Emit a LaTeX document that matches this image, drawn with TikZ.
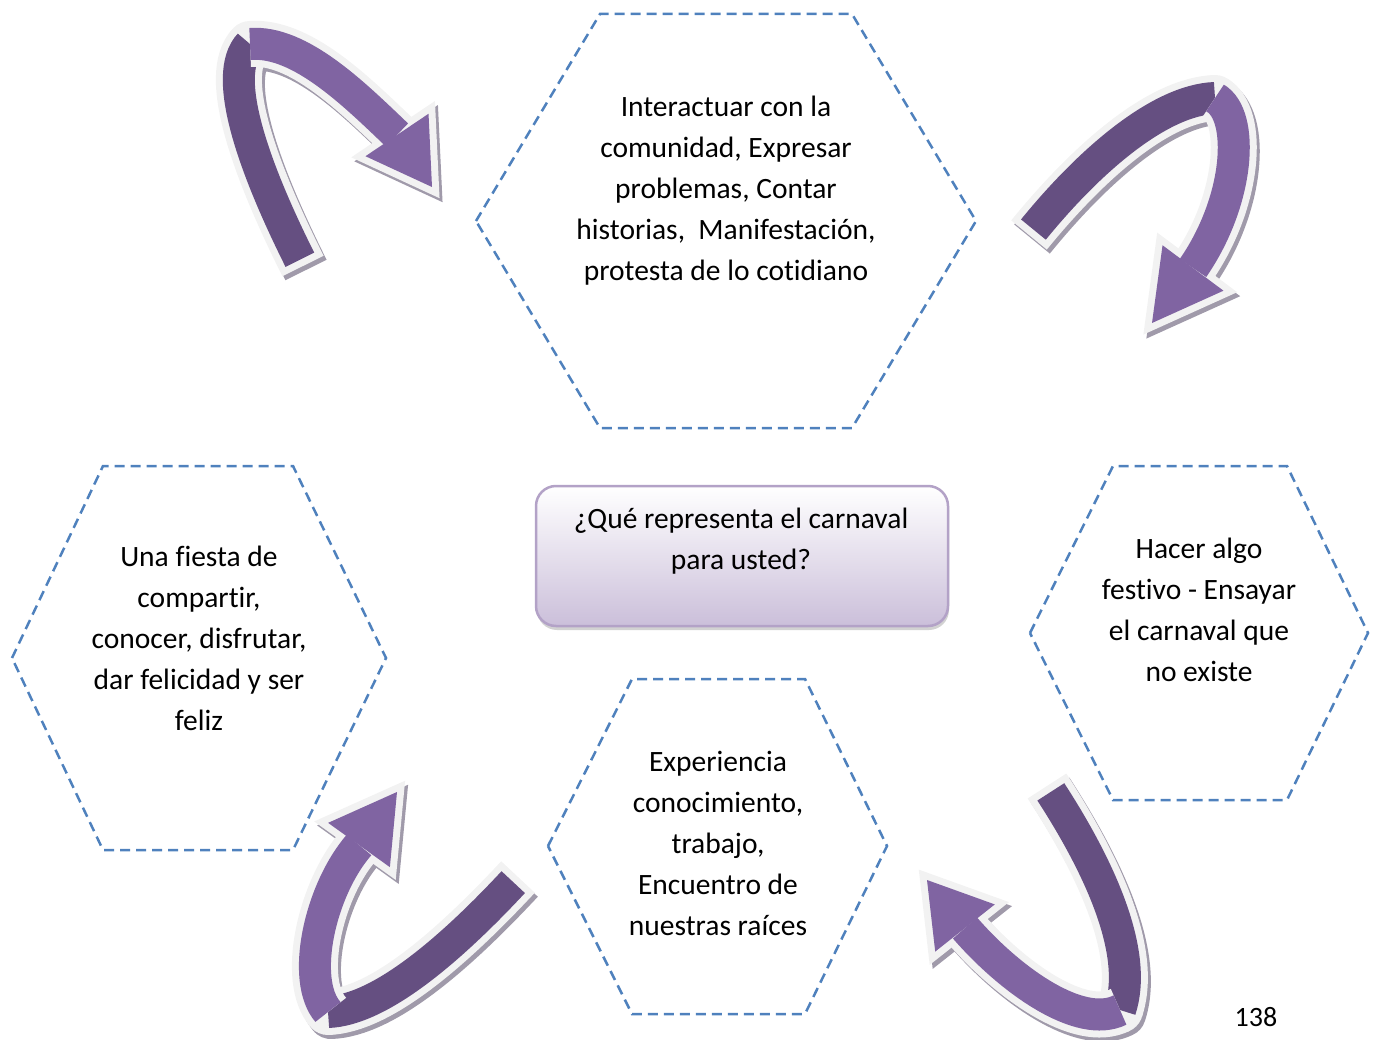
\documentclass[tikz,border=0pt]{standalone}
\usepackage{fontspec}
\setmainfont{Carlito}[Ligatures=NoCommon]
\usetikzlibrary{calc,shadows}

\definecolor{hexblue}{HTML}{4F81BD}
\definecolor{curldark}{HTML}{654F81}
\definecolor{curllight}{HTML}{8064A2}
\definecolor{curlrim}{HTML}{F2F2F2}
\definecolor{curlshade}{HTML}{A09AAA}
\definecolor{boxrim}{HTML}{B3A2C7}
\definecolor{boxfill}{HTML}{CBBFDA}

% bent ribbon arrow: tail, 2 controls, fold, 2 controls, head base, tip
\newcommand{\curlarrow}[8]{%
  \begin{scope}[shift={(3,4)}]
    \draw[curlshade, line width=46pt, line join=round] #1 .. controls #2 and #3 .. #4 .. controls #5 and #6 .. #7;
    \filldraw[curlshade, line width=14pt, line join=miter] ($#7!38pt!90:#8$) -- #8 -- ($#7!38pt!-90:#8$) -- cycle;
  \end{scope}
  \draw[curlrim, line width=46pt] #1 .. controls #2 and #3 .. #4;
  \fill[curlrim] #4 circle (23pt);
  \draw[curldark, line width=32pt, shorten <=7pt] #1 .. controls #2 and #3 .. #4;
  \draw[curlrim, line width=46pt] #4 .. controls #5 and #6 .. #7;
  \draw[curlrim, line width=14pt, line join=miter] ($#7!38pt!90:#8$) -- #8 -- ($#7!38pt!-90:#8$) -- cycle;
  \draw[curllight, line width=32pt] #4 .. controls #5 and #6 .. #7;
  \fill[curllight] ($#7!38pt!90:#8$) -- #8 -- ($#7!38pt!-90:#8$) -- cycle;
}

\begin{document}
\begin{tikzpicture}[x=1pt, y=-1pt,
   hexline/.style={draw=hexblue, line width=2.5pt, dash pattern=on 10pt off 6pt},
   hextext/.style={align=center, font=\fontsize{29.5}{41}\selectfont, inner sep=0pt},
   qbox/.style={rounded corners=20pt, draw=boxrim, line width=2.5pt, top color=white, bottom color=boxfill,
      minimum width=412pt, minimum height=140pt, drop shadow={shadow xshift=1pt, shadow yshift=-4pt, fill=black!35}}]
   \useasboundingbox (0,0) rectangle (1376,1040);

   % hexagons
   \draw[hexline] (476,221) -- (600,14) -- (852,14) -- (976,221) -- (852,428) -- (600,428) -- cycle;
   \draw[hexline] (12,658) -- (103,466) -- (293,466) -- (386,658) -- (293,850) -- (103,850) -- cycle;
   \draw[hexline] (1030,633) -- (1113,466) -- (1287,466) -- (1368,633) -- (1287,800) -- (1113,800) -- cycle;
   \draw[hexline] (548,846) -- (632,679) -- (805,679) -- (887,846) -- (805,1014) -- (632,1014) -- cycle;

   \node[hextext] (top) at (726,191) {Interactuar con la\\comunidad, Expresar\\problemas, Contar\\historias,\ \ Manifestación,\\protesta de lo cotidiano};
   \node[hextext] (left) at (199,638) {Una fiesta de\\compartir,\\conocer, disfrutar,\\dar felicidad y ser\\feliz};
   \node[hextext] (right) at (1199,610) {Hacer algo\\festivo - Ensayar\\el carnaval que\\no existe};
   \node[hextext] (bottom) at (718,843) {Experiencia\\conocimiento,\\trabajo,\\Encuentro de\\nuestras raíces};

   % centre question
   \node[qbox] (qbox) at (742,556) {};
   \node[hextext] (question) at (741,541) {¿Qué representa el carnaval\\para usted?};

   % curled arrows
   \curlarrow{(303,266)}{(255,170)}{(220,75)}{(250,44)}{(300,40)}{(355,95)}{(397,135)}{(432,187)}
   \curlarrow{(1029,235)}{(1090,160)}{(1160,100)}{(1215,98)}{(1245,115)}{(1240,200)}{(1193,268)}{(1152,323)}
   \curlarrow{(518,877)}{(450,950)}{(380,1010)}{(328,1012)}{(300,980)}{(320,890)}{(359,845)}{(397,792)}
   \curlarrow{(1047,786)}{(1095,860)}{(1140,950)}{(1120,1010)}{(1080,1030)}{(1010,980)}{(965,928)}{(927,880)}

   \node[font=\fontsize{28}{32}\selectfont, inner sep=0pt] (page) at (1256,1017) {138};
\end{tikzpicture}
\end{document}
